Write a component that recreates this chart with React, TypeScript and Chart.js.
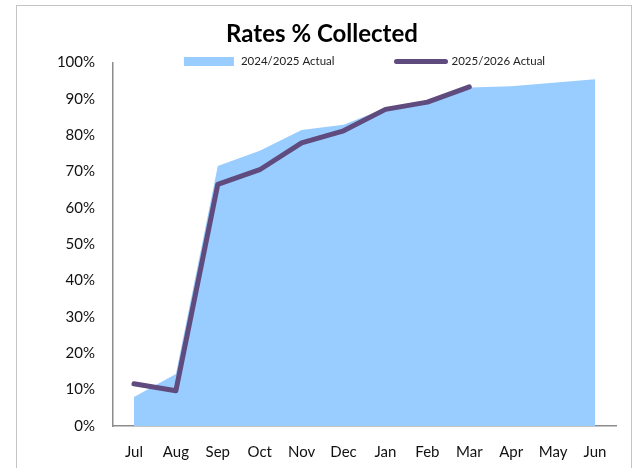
import React, { useEffect, useRef } from "react";
import { Chart, registerables } from "chart.js";

Chart.register(...registerables);

const months = ["Jul", "Aug", "Sep", "Oct", "Nov", "Dec", "Jan", "Feb", "Mar", "Apr", "May", "Jun"];
const actual2425 = [8.0, 14.3, 71.5, 75.7, 81.4, 82.9, 87.4, 89.6, 93.1, 93.5, 94.4, 95.4];
const actual2526 = [11.6, 9.7, 66.5, 70.5, 77.9, 81.2, 87.1, 89.1, 93.3];
const yTicks = [0, 10, 20, 30, 40, 50, 60, 70, 80, 90, 100];

const AREA_COLOR = "#99CCFF";
const LINE_COLOR = "#5F4B7D";
const FONT = "Lato, 'Open Sans', sans-serif";

const legendPlugin = {
  id: "customLegend",
  afterDraw(chart: any) {
    const { ctx, chartArea } = chart;
    const y = chartArea.top - 1;
    ctx.save();
    ctx.font = `11.5px ${FONT}`;
    ctx.textBaseline = "middle";
    ctx.fillStyle = "#222";
    const ds = chart.data.datasets;
    const items = [
      { label: ds[1].label, kind: "area", color: ds[1].backgroundColor, sw: 50, gap: 7 },
      { label: ds[0].label, kind: "line", color: ds[0].borderColor, sw: 53, gap: 4 },
    ];
    const itemGap = 60;
    const widths = items.map((it) => it.sw + it.gap + ctx.measureText(it.label).width);
    const total = widths[0] + itemGap + widths[1];
    let x = (chartArea.left + chartArea.right) / 2 - total / 2;
    items.forEach((it, i) => {
      if (it.kind === "area") {
        ctx.fillStyle = it.color;
        ctx.fillRect(x, y - 4.5, it.sw, 9);
      } else {
        ctx.strokeStyle = it.color;
        ctx.lineWidth = 5;
        ctx.lineCap = "round";
        ctx.beginPath();
        ctx.moveTo(x + 2, y);
        ctx.lineTo(x + it.sw - 2, y);
        ctx.stroke();
      }
      ctx.fillStyle = "#222";
      ctx.textAlign = "left";
      ctx.fillText(it.label, x + it.sw + it.gap, y);
      x += widths[i] + itemGap;
    });
    ctx.restore();
  },
};

export default function App() {
  const ref = useRef<HTMLCanvasElement | null>(null);

  useEffect(() => {
    if (!ref.current) return;
    const chart = new Chart(ref.current, {
      type: "line",
      data: {
        labels: months,
        datasets: [
          {
            label: "2025/2026 Actual",
            data: actual2526,
            borderColor: LINE_COLOR,
            backgroundColor: LINE_COLOR,
            borderWidth: 5,
            borderCapStyle: "round",
            borderJoinStyle: "round",
            pointRadius: 0,
            tension: 0,
            fill: false,
            order: 0,
          },
          {
            label: "2024/2025 Actual",
            data: actual2425,
            borderColor: AREA_COLOR,
            backgroundColor: AREA_COLOR,
            borderWidth: 0,
            pointRadius: 0,
            tension: 0,
            fill: "origin",
            order: 1,
          },
        ],
      },
      options: {
        animation: false,
        responsive: false,
        maintainAspectRatio: false,
        layout: { padding: { left: 28, right: 24, top: 0, bottom: 0 } },
        plugins: {
          legend: { display: false },
          tooltip: { enabled: false },
          title: {
            display: true,
            text: "Rates % Collected",
            color: "#000",
            font: { family: FONT, size: 24, weight: "bold" },
            padding: { top: 19.5, bottom: 14.2 },
          },
        },
        scales: {
          x: {
            offset: true,
            grid: { display: false, drawTicks: false },
            border: { display: true, color: "#8c8c8c", width: 1.5 },
            ticks: {
              color: "#111",
              font: { family: FONT, size: 15 },
              padding: 17,
              maxRotation: 0,
              autoSkip: false,
            },
            afterFit: (s: any) => {
              s.height = 42;
            },
          },
          y: {
            min: 0,
            max: 100,
            grid: { display: false, drawTicks: false },
            border: { display: true, color: "#8c8c8c", width: 1.5 },
            afterBuildTicks: (s: any) => {
              s.ticks = yTicks.map((v) => ({ value: v }));
            },
            ticks: {
              color: "#111",
              font: { family: FONT, size: 15 },
              padding: 18,
              callback: (v: any) => `${v}%`,
            },
            afterFit: (s: any) => {
              s.width = 85;
            },
          },
        },
      },
      plugins: [legendPlugin],
    } as any);
    return () => chart.destroy();
  }, []);

  return (
    <div style={{ position: "absolute", left: 0, top: 0, width: 640, height: 468, overflow: "hidden", background: "#fff" }}>
      <div
        style={{
          position: "absolute",
          left: 16,
          top: 5,
          width: 616,
          height: 500,
          border: "1.5px solid #c4c4c4",
          boxSizing: "border-box",
        }}
      />
      <canvas ref={ref} width={640} height={468} style={{ position: "absolute", left: 0, top: 0, width: 640, height: 468 }} />
    </div>
  );
}
